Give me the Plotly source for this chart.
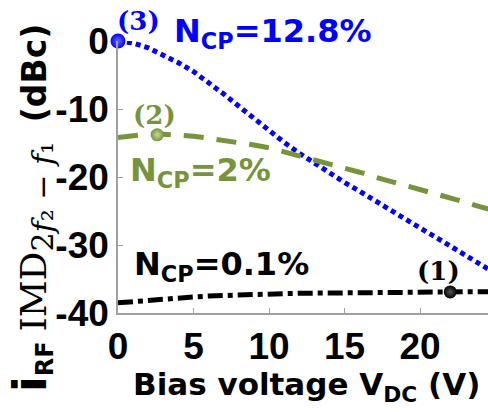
import plotly.graph_objects as go

# ---- data ----
bias_v = [0, 1, 2, 3, 4, 5, 6, 7, 8, 9, 10, 11, 12, 13, 14, 15, 16, 17, 18, 19, 20, 21, 22, 23, 24, 25]
imd_128 = [0, -0.3, -1.0, -2.0, -3.2, -4.5, -6.1, -7.8, -9.6, -11.4, -13.2, -14.9, -16.5, -18.0,
           -19.4, -20.8, -22.1, -23.5, -24.8, -26.1, -27.5, -28.8, -30.2, -31.6, -32.9, -34.2]
imd_2 = [-14.2, -13.9, -13.7, -13.7, -13.8, -14.0, -14.3, -14.6, -14.9, -15.3, -15.7, -16.3, -16.9,
         -17.5, -18.1, -18.6, -19.3, -20.0, -20.6, -21.3, -21.9, -22.5, -23.1, -23.7, -24.4, -25.0]
imd_01 = [-38.5, -38.3, -38.1, -37.95, -37.8, -37.65, -37.5, -37.4, -37.3, -37.25, -37.2, -37.15,
          -37.1, -37.08, -37.05, -37.02, -37.0, -36.98, -36.95, -36.93, -36.9, -36.9, -36.9,
          -36.88, -36.86, -36.85]

point_x = [22.0, 2.6, 0.0]
point_y = [-36.9, -13.8, 0.0]
point_labels = ["(1)", "(2)", "(3)"]

series_names = ["N<sub>CP</sub>=12.8%", "N<sub>CP</sub>=2%", "N<sub>CP</sub>=0.1%"]

x_ticks = [0, 5, 10, 15, 20]
x_ticktext = ["0", "5", "10", "15", "20"]
y_ticks = [0, -10, -20, -30, -40]
y_ticktext = ["0", "-10", "-20", "-30", "-40"]

BLUE = "#0000FF"
GREEN = "#77933C"
BLACK = "#000000"

fig = go.Figure()

fig.add_trace(go.Scatter(x=bias_v, y=imd_128, mode="lines",
                         line=dict(color=BLUE, width=5, dash="5px,4px"), showlegend=False))
fig.add_trace(go.Scatter(x=bias_v, y=imd_2, mode="lines",
                         line=dict(color=GREEN, width=5, dash="20px,13px"), showlegend=False))
fig.add_trace(go.Scatter(x=bias_v, y=imd_01, mode="lines",
                         line=dict(color=BLACK, width=5, dash="15px,5px,5px,5px"), showlegend=False))

pt_colors = [BLACK, GREEN, BLUE]
pt_sizes = [13, 13, 15]
for i in range(3):
    fig.add_trace(go.Scatter(
        x=[point_x[i]], y=[point_y[i]], mode="markers", cliponaxis=False, showlegend=False,
        marker=dict(color=pt_colors[i], size=pt_sizes[i],
                    gradient=dict(type="radial", color=["#555555", "#c8dc96", "#6a6aff"][i]),
                    line=dict(width=0))))

# point labels
lab_pos = [(438, 271), (154, 115), (138, 21)]
for i in range(3):
    px, py = lab_pos[i]
    fig.add_annotation(x=(px - 118) / 370, y=(313 - py) / 272, xref="paper", yref="paper",
                       text="<b>" + point_labels[i] + "</b>", showarrow=False,
                       xanchor="center", yanchor="middle",
                       font=dict(family="DejaVu Serif", size=26, color=pt_colors[i]))

# series labels
ser_pos = [(172, 33, BLUE), (128, 172, GREEN), (132, 266, BLACK)]
for i in range(3):
    px, py, col = ser_pos[i]
    fig.add_annotation(x=(px - 118) / 370, y=(313 - py) / 272, xref="paper", yref="paper",
                       text="<b>" + series_names[i] + "</b>", showarrow=False,
                       xanchor="left", yanchor="middle",
                       font=dict(family="DejaVu Sans", size=32, color=col))

# y-axis title
ytitle = ('<b><span style="font-size:46px">i</span><sub><span style="font-size:24px">RF</span></sub></b> '
          '<span style="font-family:DejaVu Serif;font-size:36px">IMD</span>'
          '<sub><span style="font-family:DejaVu Serif;font-size:30px">2<i>f</i>₂ − <i>f</i>₁</span></sub>  '
          '<b><span style="font-size:33px">(dBc)</span></b>')
fig.add_annotation(x=(31 - 118) / 370, y=(313 - 208) / 272, xref="paper", yref="paper",
                   text=ytitle, showarrow=False, textangle=-90, xanchor="center", yanchor="middle",
                   font=dict(family="DejaVu Sans", size=31, color=BLACK))

# x-axis title
fig.add_annotation(x=(306 - 118) / 370, y=(313 - 386) / 272, xref="paper", yref="paper",
                   text="<b>Bias voltage V<sub>DC</sub> (V)</b>", showarrow=False,
                   xanchor="center", yanchor="middle",
                   font=dict(family="DejaVu Sans", size=31, color=BLACK))

fig.update_layout(
    width=488, height=412,
    margin=dict(l=118, r=0, t=41, b=99),
    paper_bgcolor="white", plot_bgcolor="white",
    xaxis=dict(range=[0, 24.5], tickvals=x_ticks, ticktext=x_ticktext,
               showgrid=False, zeroline=False, showline=True, linecolor="#a0a0a0", linewidth=1.5,
               ticks="inside", ticklen=5, tickcolor="#a0a0a0", tickwidth=1,
               tickfont=dict(family="Liberation Sans", size=37, color=BLACK, weight="bold")),
    yaxis=dict(range=[-40, 0], tickvals=y_ticks, ticktext=y_ticktext,
               showgrid=False, zeroline=False, showline=True, linecolor="#a0a0a0", linewidth=1.5,
               ticks="inside", ticklen=5, tickcolor="#a0a0a0", tickwidth=1,
               tickfont=dict(family="Liberation Sans", size=37, color=BLACK, weight="bold")),
)

fig.write_html("out.html")
